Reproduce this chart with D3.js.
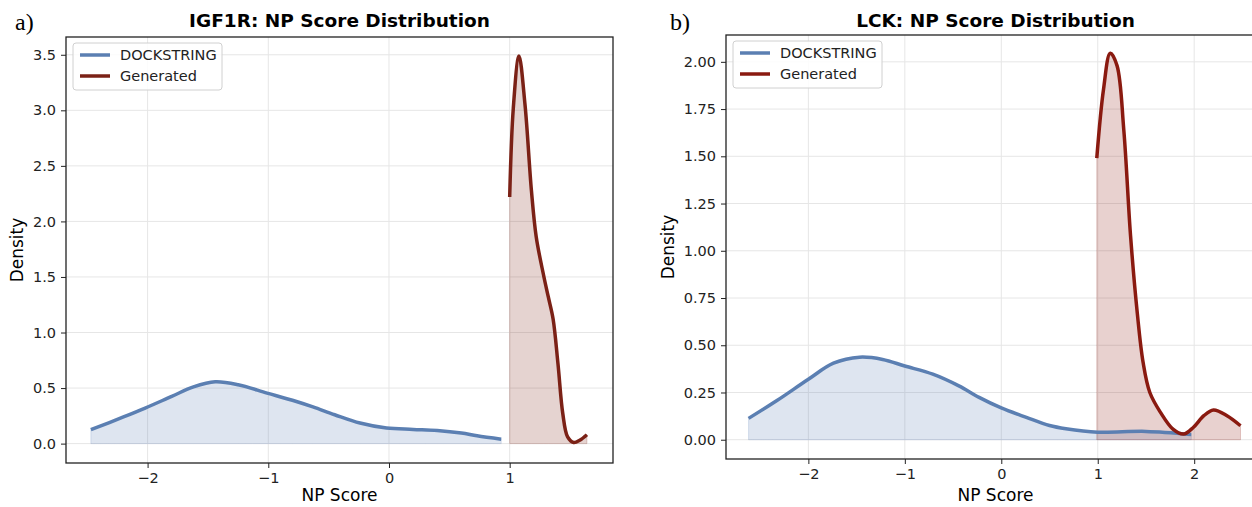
<!DOCTYPE html>
<html>
<head>
<meta charset="utf-8">
<script src="https://cdn.jsdelivr.net/npm/d3@7"></script>
<style>
  body { margin: 0; background: #fff; }
  svg { display: block; font-family: "DejaVu Sans", sans-serif; }
</style>
</head>
<body>
<svg id="chart" width="1252" height="507"></svg>
<script>
// IGF1R panel
var igfDockX = [-2.47, -2.2, -2.02, -1.8, -1.62, -1.44, -1.25, -1.01, -0.8, -0.63, -0.45, -0.24, -0.02, 0.2, 0.4, 0.6, 0.73, 0.93];
var igfDockY = [0.125, 0.24, 0.32, 0.425, 0.51, 0.556, 0.53, 0.455, 0.39, 0.33, 0.26, 0.185, 0.14, 0.128, 0.118, 0.095, 0.07, 0.04];
var igfGenX = [1.0, 1.03, 1.077, 1.127, 1.18, 1.22, 1.28, 1.32, 1.36, 1.40, 1.44, 1.48, 1.53, 1.58, 1.64];
var igfGenY = [2.22, 3.02, 3.49, 3.05, 2.28, 1.86, 1.52, 1.32, 1.12, 0.72, 0.27, 0.06, 0.01, 0.03, 0.08];
var igfYTicks = [0, 0.5, 1, 1.5, 2, 2.5, 3, 3.5];

// LCK panel
var lckDockX = [-2.62, -2.33, -2.0, -1.74, -1.47, -1.23, -1.0, -0.71, -0.44, -0.23, 0.0, 0.26, 0.5, 0.67, 1.0, 1.5, 1.97];
var lckDockY = [0.113, 0.206, 0.32, 0.405, 0.437, 0.425, 0.39, 0.347, 0.285, 0.224, 0.168, 0.118, 0.075, 0.058, 0.04, 0.044, 0.028];
var lckGenX = [0.99, 1.06, 1.13, 1.20, 1.27, 1.34, 1.41, 1.47, 1.54, 1.65, 1.78, 1.89, 1.99, 2.10, 2.2, 2.34, 2.48];
var lckGenY = [1.49, 1.855, 2.046, 1.98, 1.64, 1.08, 0.67, 0.41, 0.25, 0.145, 0.056, 0.03, 0.065, 0.127, 0.157, 0.127, 0.074];
var lckYTicks = [0, 0.25, 0.5, 0.75, 1, 1.25, 1.5, 1.75, 2];

var xTicks = [-2, -1, 0, 1, 2];
var seriesNames = ["DOCKSTRING", "Generated"];

var svg = d3.select("#chart");

function drawPanel(opt) {
	var left = opt.left, right = opt.right, top = opt.top, bottom = opt.bottom;

	var x = d3.scaleLinear().domain(opt.xDomain).range([left, right]);
	var y = d3.scaleLinear().domain(opt.yDomain).range([bottom, top]);

	var g = svg.append("g");
	var clipId = "clip" + opt.id;
	svg.append("clipPath").attr("id", clipId).append("rect")
		.attr("x", left).attr("y", top).attr("width", right - left).attr("height", bottom - top);

	var xt = opt.xTicks.filter(function(d) { return x(d) >= left && x(d) <= right; });

	// grid
	g.selectAll(".gx").data(xt).enter().append("line")
		.attr("x1", function(d) { return x(d); }).attr("x2", function(d) { return x(d); })
		.attr("y1", top).attr("y2", bottom)
		.attr("stroke", "#e6e6e6").attr("stroke-width", 1);
	g.selectAll(".gy").data(opt.yTicks).enter().append("line")
		.attr("x1", left).attr("x2", right)
		.attr("y1", function(d) { return y(d); }).attr("y2", function(d) { return y(d); })
		.attr("stroke", "#e6e6e6").attr("stroke-width", 1);

	var plot = g.append("g").attr("clip-path", "url(#" + clipId + ")");

	opt.series.forEach(function(s) {
		var pts = s.xs.map(function(v, i) { return [v, s.ys[i]]; });
		var area = d3.area()
			.x(function(d) { return x(d[0]); })
			.y0(y(0))
			.y1(function(d) { return y(d[1]); })
			.curve(d3.curveCatmullRom.alpha(0.5));
		plot.append("path").attr("d", area(pts))
			.attr("fill", s.color).attr("fill-opacity", 0.2)
			.attr("stroke", s.color).attr("stroke-opacity", 0.2).attr("stroke-width", 1);
	});
	opt.series.forEach(function(s) {
		var pts = s.xs.map(function(v, i) { return [v, s.ys[i]]; });
		var line = d3.line()
			.x(function(d) { return x(d[0]); })
			.y(function(d) { return y(d[1]); })
			.curve(d3.curveCatmullRom.alpha(0.5));
		plot.append("path").attr("d", line(pts))
			.attr("fill", "none").attr("stroke", s.color).attr("stroke-width", 3.5)
			.attr("stroke-linejoin", "round");
	});

	// axes
	var xAxis = d3.axisBottom(x).tickValues(xt).tickSize(5).tickPadding(5)
		.tickFormat(function(d) { return d < 0 ? "\u2212" + Math.abs(d) : d; });
	var gx = g.append("g").attr("transform", "translate(0," + bottom + ")").call(xAxis);
	var yAxis = d3.axisLeft(y).tickValues(opt.yTicks).tickSize(5).tickPadding(5)
		.tickFormat(d3.format(opt.yFormat));
	var gy = g.append("g").attr("transform", "translate(" + left + ",0)").call(yAxis);
	[gx, gy].forEach(function(a) {
		a.select(".domain").remove();
		a.selectAll("line").attr("stroke", "#222").attr("stroke-width", 1);
		a.selectAll("text").attr("fill", "#222").style("font-size", "14.5px")
			.style("font-family", "DejaVu Sans, sans-serif");
	});

	// frame
	g.append("rect").attr("x", left).attr("y", top)
		.attr("width", right - left).attr("height", bottom - top)
		.attr("fill", "none").attr("stroke", "#222").attr("stroke-width", 1.3);

	// title & labels
	svg.append("text").attr("x", (left + right) / 2).attr("y", 27)
		.attr("text-anchor", "middle").style("font-size", "18.5px").style("font-weight", "bold")
		.text(opt.title);
	svg.append("text").attr("x", opt.tagX).attr("y", 30)
		.style("font-family", "Liberation Serif, serif").style("font-size", "24px")
		.text(opt.tag);
	svg.append("text").attr("x", (left + right) / 2).attr("y", 501)
		.attr("text-anchor", "middle").style("font-size", "17px").text("NP Score");
	svg.append("text")
		.attr("transform", "translate(" + opt.yLabelX + "," + ((top + bottom) / 2) + ") rotate(-90)")
		.attr("text-anchor", "middle").style("font-size", "17px").text("Density");

	// legend
	var lg = svg.append("g").attr("transform", "translate(" + (left + 7) + "," + (top + 6) + ")");
	lg.append("rect").attr("width", 149).attr("height", 47).attr("rx", 3)
		.attr("fill", "#fff").attr("fill-opacity", 0.85).attr("stroke", "#d0d0d0");
	opt.series.forEach(function(s, i) {
		var yy = 12 + i * 21;
		lg.append("line").attr("x1", 7).attr("x2", 37).attr("y1", yy).attr("y2", yy)
			.attr("stroke", s.color).attr("stroke-width", 3.5);
		lg.append("text").attr("x", 47).attr("y", yy + 5).style("font-size", "14.5px")
			.attr("fill", "#222").text(seriesNames[i]);
	});
}

drawPanel({
	id: "a", tag: "a)", tagX: 15, title: "IGF1R: NP Score Distribution",
	left: 66, right: 613, top: 37, bottom: 463, yLabelX: 23,
	xDomain: [-2.676, 1.856], yDomain: [-0.1745, 3.66],
	xTicks: xTicks, yTicks: igfYTicks, yFormat: ".1f",
	series: [
		{ xs: igfDockX, ys: igfDockY, color: "#5b7fb2" },
		{ xs: igfGenX, ys: igfGenY, color: "#7b2116" }
	]
});

drawPanel({
	id: "b", tag: "b)", tagX: 670, title: "LCK: NP Score Distribution",
	left: 726, right: 1265, top: 35, bottom: 459, yLabelX: 674,
	xDomain: [-2.854, 2.734], yDomain: [-0.102, 2.142],
	xTicks: xTicks, yTicks: lckYTicks, yFormat: ".2f",
	series: [
		{ xs: lckDockX, ys: lckDockY, color: "#5b7fb2" },
		{ xs: lckGenX, ys: lckGenY, color: "#8a1a10" }
	]
});
</script>
</body>
</html>
